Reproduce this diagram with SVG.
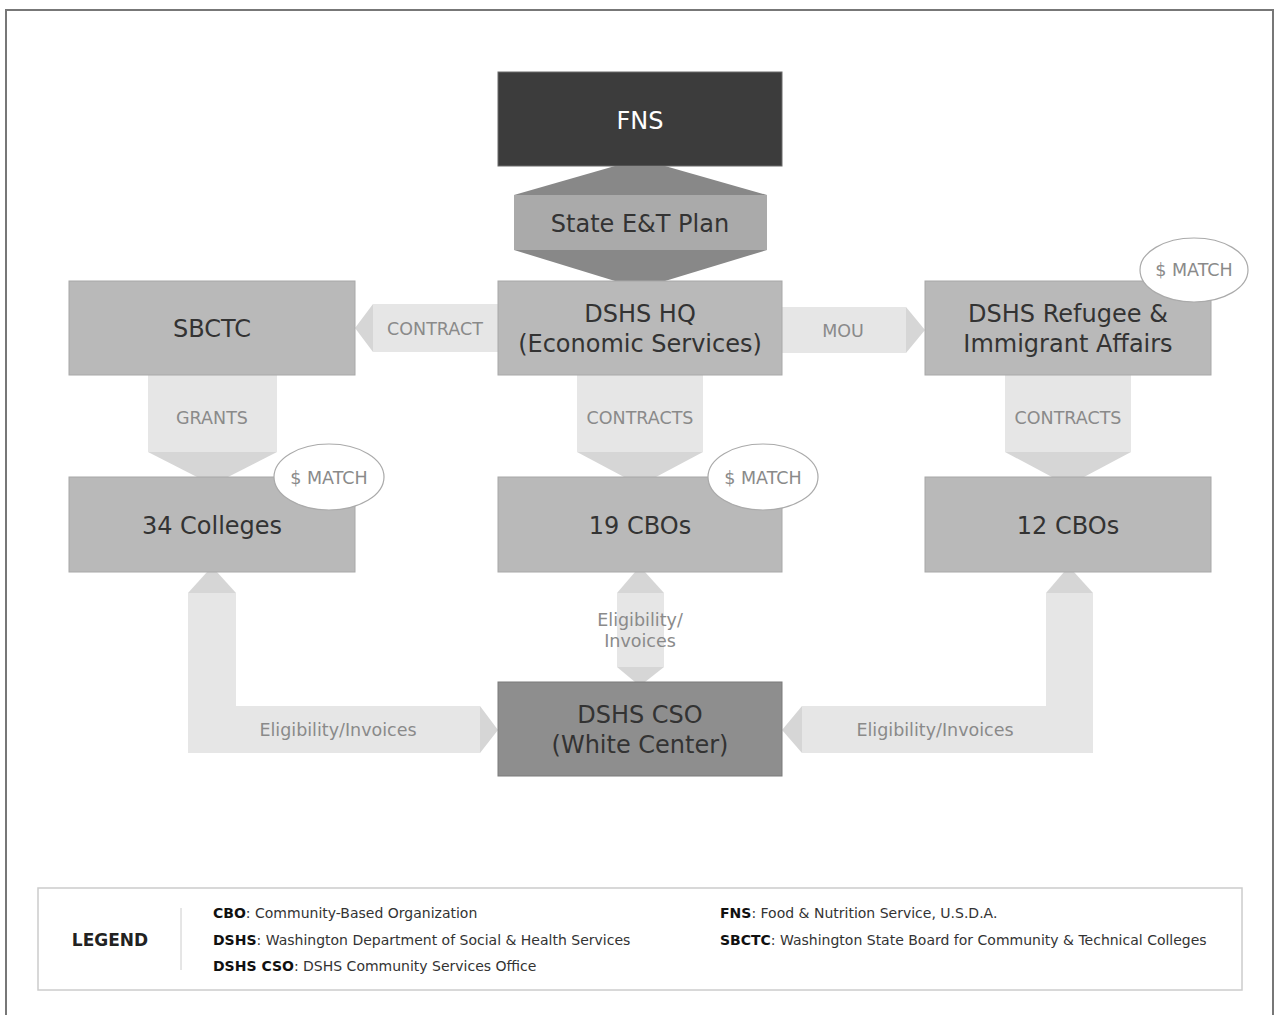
<svg xmlns="http://www.w3.org/2000/svg" width="1277" height="1015" viewBox="0 0 1277 1015">
<style>
text{font-family:"DejaVu Sans",Verdana,sans-serif;text-anchor:middle}
.node{fill:#b9b9b9;stroke:#a8a8a8;stroke-width:1}
.nt{font-size:24px;fill:#333}
.body{fill:#e6e6e6}
.head{fill:#d6d6d6}
.lbl{font-size:17.5px;fill:#8a8a8a}
.match{fill:#fff;stroke:#aaa;stroke-width:1.2}
.lg{font-size:14px;fill:#333;text-anchor:start}
.lg tspan.b{font-weight:bold;fill:#111}
</style>
<rect x="6" y="10" width="1267" height="1020" fill="#fff" stroke="#777" stroke-width="2"/>

<g id="connectors">
  <rect class="body" x="373" y="304" width="125" height="48"/>
  <polygon class="head" points="373,304 355,328 373,352"/>
  <text class="lbl" x="435" y="335">CONTRACT</text>
  <rect class="body" x="782" y="307" width="124" height="46"/>
  <polygon class="head" points="906,307 925,330 906,353"/>
  <text class="lbl" x="843" y="337">MOU</text>
  <rect class="body" x="148" y="375" width="129" height="77"/>
  <polygon class="head" points="148,452 277,452 228,477 197,477"/>
  <text class="lbl" x="212" y="424">GRANTS</text>
  <rect class="body" x="577" y="375" width="126" height="77"/>
  <polygon class="head" points="577,452 703,452 656,477 624,477"/>
  <text class="lbl" x="640" y="424">CONTRACTS</text>
  <rect class="body" x="1005" y="375" width="126" height="77"/>
  <polygon class="head" points="1005,452 1131,452 1084,477 1052,477"/>
  <text class="lbl" x="1068" y="424">CONTRACTS</text>
  <rect class="body" x="617" y="593" width="47" height="74"/>
  <polygon class="head" points="617,593 664,593 645,572 635,572"/>
  <polygon class="head" points="617,667 664,667 645,682 635,682"/>
  <text class="lbl" x="640" y="626">Eligibility/</text>
  <text class="lbl" x="640" y="647">Invoices</text>
  <polygon class="body" points="188,593 236,593 236,706 480,706 480,753 188,753"/>
  <polygon class="head" points="188,593 236,593 217,572 207,572"/>
  <polygon class="head" points="480,706 498,730 480,753"/>
  <text class="lbl" x="338" y="736">Eligibility/Invoices</text>
  <polygon class="body" points="1046,593 1093,593 1093,753 802,753 802,706 1046,706"/>
  <polygon class="head" points="1046,593 1093,593 1074,572 1064,572"/>
  <polygon class="head" points="802,706 782,730 802,753"/>
  <text class="lbl" x="935" y="736">Eligibility/Invoices</text>
</g>

<g id="fns">
  <rect x="498" y="72" width="284" height="94" fill="#3c3c3c" stroke="#6a6a6a" stroke-width="1"/>
  <text x="640" y="129" font-size="24" fill="#fff">FNS</text>
</g>

<g id="state-plan">
  <polygon points="615,166 665,166 767,195 514,195" fill="#888"/>
  <rect x="514" y="195" width="253" height="55" fill="#aaa"/>
  <polygon points="514,250 767,250 665,281 615,281" fill="#888"/>
  <text class="nt" x="640" y="232">State E&amp;T Plan</text>
</g>

<g id="sbctc">
  <rect class="node" x="69" y="281" width="286" height="94"/>
  <text class="nt" x="212" y="337">SBCTC</text>
</g>

<g id="dshs-hq">
  <rect class="node" x="498" y="281" width="284" height="94"/>
  <text class="nt" x="640" y="322">DSHS HQ</text>
  <text class="nt" x="640" y="352">(Economic Services)</text>
</g>

<g id="refugee">
  <rect class="node" x="925" y="281" width="286" height="94"/>
  <text class="nt" x="1068" y="322">DSHS Refugee &amp;</text>
  <text class="nt" x="1068" y="352">Immigrant Affairs</text>
  <ellipse class="match" cx="1194" cy="270" rx="54" ry="32"/>
  <text class="lbl" x="1194" y="276">$ MATCH</text>
</g>

<g id="colleges">
  <rect class="node" x="69" y="477" width="286" height="95"/>
  <text class="nt" x="212" y="534">34 Colleges</text>
  <ellipse class="match" cx="329" cy="477" rx="55" ry="33"/>
  <text class="lbl" x="329" y="484">$ MATCH</text>
</g>

<g id="cbos19">
  <rect class="node" x="498" y="477" width="284" height="95"/>
  <text class="nt" x="640" y="534">19 CBOs</text>
  <ellipse class="match" cx="763" cy="477" rx="55" ry="33"/>
  <text class="lbl" x="763" y="484">$ MATCH</text>
</g>

<g id="cbos12">
  <rect class="node" x="925" y="477" width="286" height="95"/>
  <text class="nt" x="1068" y="534">12 CBOs</text>
</g>

<g id="cso">
  <rect x="498" y="682" width="284" height="94" fill="#8e8e8e" stroke="#7a7a7a" stroke-width="1"/>
  <text class="nt" x="640" y="723" fill="#2a2a2a">DSHS CSO</text>
  <text class="nt" x="640" y="753" fill="#2a2a2a">(White Center)</text>
</g>

<g id="legend">
  <rect x="38" y="888" width="1204" height="102" fill="#fff" stroke="#ccc" stroke-width="1.5"/>
  <line x1="181" y1="908" x2="181" y2="970" stroke="#ccc" stroke-width="1"/>
  <text x="110" y="946" font-size="17" font-weight="bold" fill="#222">LEGEND</text>
  <text class="lg" x="213" y="918"><tspan class="b">CBO</tspan>: Community-Based Organization</text>
  <text class="lg" x="213" y="945"><tspan class="b">DSHS</tspan>: Washington Department of Social &amp; Health Services</text>
  <text class="lg" x="213" y="971"><tspan class="b">DSHS CSO</tspan>: DSHS Community Services Office</text>
  <text class="lg" x="720" y="918"><tspan class="b">FNS</tspan>: Food &amp; Nutrition Service, U.S.D.A.</text>
  <text class="lg" x="720" y="945"><tspan class="b">SBCTC</tspan>: Washington State Board for Community &amp; Technical Colleges</text>
</g>
</svg>
